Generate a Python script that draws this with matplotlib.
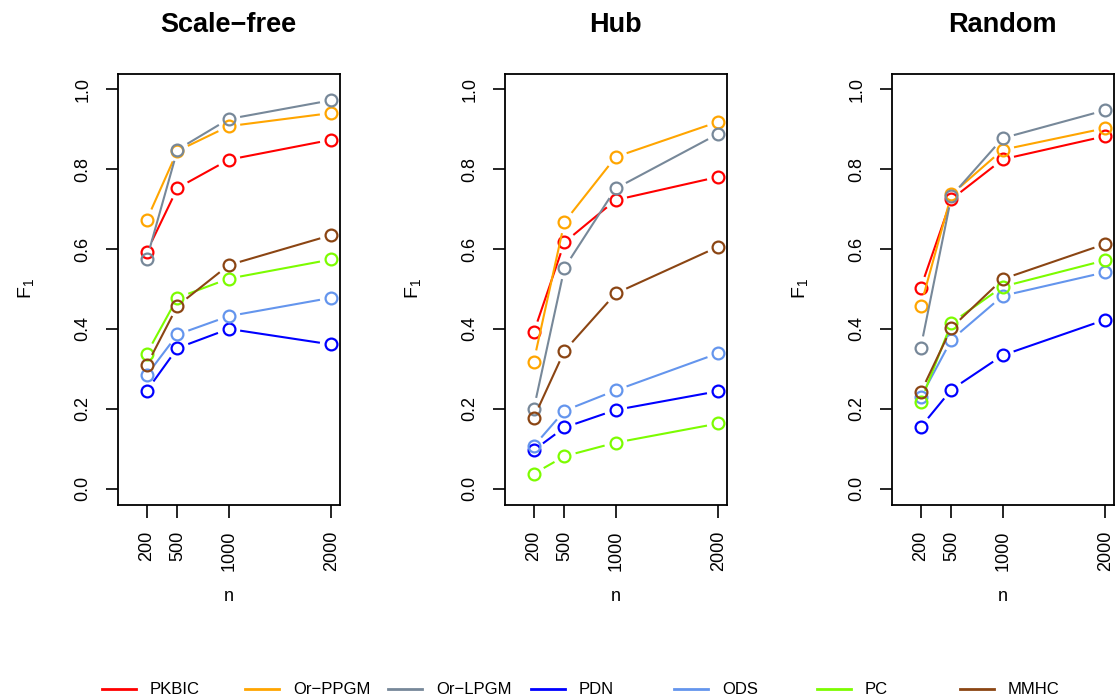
import numpy as np
import matplotlib
matplotlib.use("Agg")
import matplotlib.pyplot as plt
from matplotlib.lines import Line2D

plt.rcParams["font.family"] = ["Liberation Sans", "DejaVu Sans"]
plt.rcParams["mathtext.default"] = "regular"

# sample sizes
n = [200, 500, 1000, 2000]
methods = ["PKBIC", "Or\u2212PPGM", "Or\u2212LPGM", "PDN", "ODS", "PC", "MMHC"]
colors = ["red", "orange", "lightslategray", "blue", "cornflowerblue", "lawngreen", "saddlebrown"]
titles = ["Scale\u2212free", "Hub", "Random"]

# F1 scores, one list per method (order as in methods)
scale_free = [
    [0.593, 0.753, 0.824, 0.874],
    [0.673, 0.846, 0.908, 0.941],
    [0.575, 0.849, 0.926, 0.973],
    [0.245, 0.352, 0.400, 0.361],
    [0.284, 0.386, 0.432, 0.478],
    [0.338, 0.478, 0.526, 0.574],
    [0.309, 0.458, 0.560, 0.635],
]
hub = [
    [0.391, 0.617, 0.723, 0.781],
    [0.318, 0.668, 0.831, 0.919],
    [0.199, 0.553, 0.752, 0.889],
    [0.096, 0.153, 0.197, 0.244],
    [0.106, 0.195, 0.246, 0.339],
    [0.037, 0.081, 0.115, 0.163],
    [0.177, 0.345, 0.489, 0.606],
]
random_net = [
    [0.503, 0.725, 0.825, 0.883],
    [0.458, 0.737, 0.849, 0.903],
    [0.353, 0.733, 0.878, 0.948],
    [0.154, 0.248, 0.334, 0.423],
    [0.229, 0.373, 0.483, 0.542],
    [0.218, 0.415, 0.506, 0.572],
    [0.241, 0.403, 0.525, 0.613],
]
panels = [scale_free, hub, random_net]

fig = plt.figure(figsize=(11.16, 6.99), dpi=100)


def gapped_line(ax, x, y, color, gap=11.5):
    # R type="b": segments stop short of the points
    pts = ax.transData.transform(np.column_stack([x, y]))
    inv = ax.transData.inverted()
    for i in range(len(pts) - 1):
        p0, p1 = pts[i], pts[i + 1]
        d = p1 - p0
        L = np.hypot(d[0], d[1])
        if L <= 2 * gap:
            continue
        u = d / L
        seg = inv.transform(np.array([p0 + u * gap, p1 - u * gap]))
        ax.plot(seg[:, 0], seg[:, 1], color=color, lw=1.5, solid_capstyle="butt")


lefts = [118, 505, 892]
for k in range(3):
    ax = fig.add_axes([lefts[k] / 1116, 194.5 / 699, 221.5 / 1116, 431 / 699])
    ax.set_xlim(-80, 2080)
    ax.set_ylim(-0.04, 1.04)
    for m in range(len(methods)):
        gapped_line(ax, n, panels[k][m], colors[m])
        ax.plot(n, panels[k][m], "o", ms=8.5, mfc="none", mec=colors[m], mew=1.6)
    ax.set_xticks(n)
    ax.set_xticklabels([str(v) for v in n], rotation=90, va="top")
    ax.set_yticks([0.0, 0.2, 0.4, 0.6, 0.8, 1.0])
    ax.set_yticklabels(["0.0", "0.2", "0.4", "0.6", "0.8", "1.0"], rotation=90, va="center")
    ax.tick_params(axis="both", length=9, width=1.2, labelsize=13, pad=10)
    for s in ax.spines.values():
        s.set_linewidth(1.3)
    ax.set_title(titles[k], fontsize=19.5, fontweight="bold", pad=30)
    ax.set_xlabel("n", fontsize=13, labelpad=12)
    ax.set_ylabel("F$_1$", fontsize=14, labelpad=28)

# legend along the bottom
for m in range(len(methods)):
    x0 = 102 + 143 * m
    fig.add_artist(Line2D([x0 / 1116, (x0 + 34) / 1116], [10 / 699, 10 / 699],
                          color=colors[m], lw=2))
    fig.text((x0 + 48) / 1116, 10 / 699, methods[m], fontsize=12, va="center", ha="left")

fig.savefig("out.png", dpi=100)
